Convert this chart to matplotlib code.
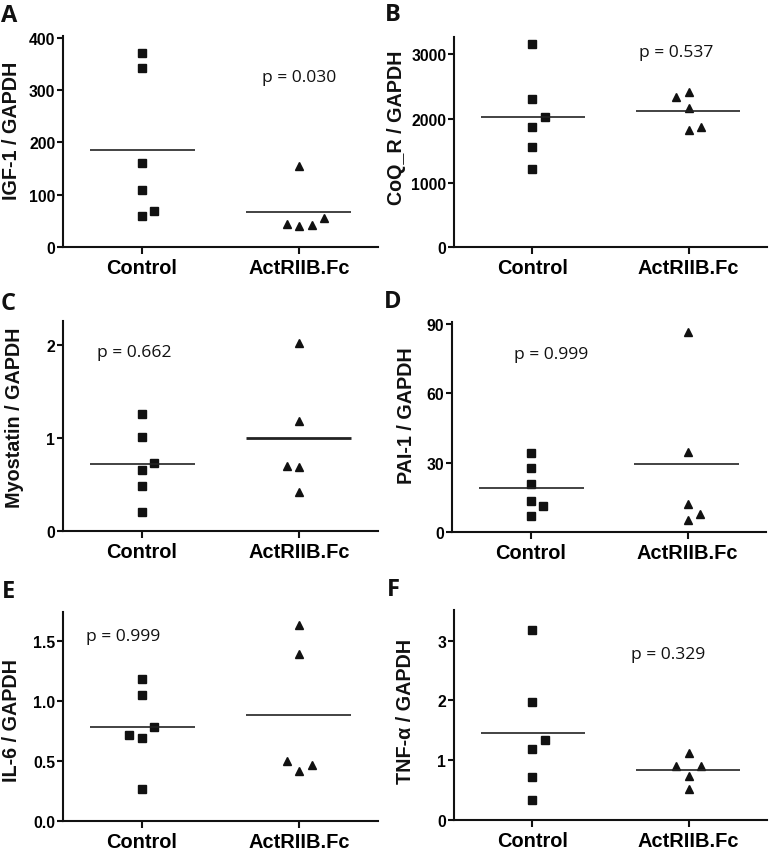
import matplotlib
matplotlib.use("Agg")
import matplotlib.pyplot as plt
import numpy as np

W, H = 769, 854
DPI = 100

groups = ["Control", "ActRIIB.Fc"]

# Panel A: IGF-1
a_ctrl = [371, 342, 160, 109, 59, 68]
a_ctrl_dx = [0, 0, 0, 0, 0, 0.08]
a_trt = [154, 44.5, 39.4, 42.6, 54.7]
a_trt_dx = [0, -0.08, 0, 0.08, 0.16]

# Panel B: CoQ_R
b_ctrl = [3156, 2304, 1869, 1557, 1215, 2024]
b_ctrl_dx = [0, 0, 0, 0, 0, 0.08]
b_trt = [2336, 2408, 2159, 1822, 1863]
b_trt_dx = [-0.08, 0, 0, 0, 0.08]

# Panel C: Myostatin
c_ctrl = [1.257, 1.009, 0.657, 0.488, 0.208, 0.729]
c_ctrl_dx = [0, 0, 0, 0, 0, 0.08]
c_trt = [2.025, 1.181, 0.700, 0.686, 0.420]
c_trt_dx = [0, 0, -0.08, 0, 0]

# Panel D: PAI-1
d_ctrl = [34.2, 27.7, 20.7, 13.2, 7.0, 11.1]
d_ctrl_dx = [0, 0, 0, 0, 0, 0.08]
d_trt = [86.3, 34.6, 11.9, 5.3, 7.8]
d_trt_dx = [0, 0, 0, 0, 0.08]

# Panel E: IL-6
e_ctrl = [1.186, 1.056, 0.789, 0.722, 0.694, 0.269]
e_ctrl_dx = [0, 0, 0.08, -0.08, 0, 0]
e_trt = [1.633, 1.394, 0.500, 0.417, 0.467]
e_trt_dx = [0, 0, -0.08, 0, 0.08]

# Panel F: TNF-alpha
f_ctrl = [3.168, 1.969, 1.339, 1.182, 0.719, 0.329]
f_ctrl_dx = [0, 0, 0.08, 0, 0, 0]
f_trt = [1.127, 0.898, 0.904, 0.742, 0.513]
f_trt_dx = [0, -0.08, 0.08, 0, 0]

panels = [
    dict(letter="A", ylabel="IGF-1 / GAPDH", ctrl=a_ctrl, cdx=a_ctrl_dx, trt=a_trt, tdx=a_trt_dx,
         yticks=[0, 100, 200, 300, 400], yticklabels=["0", "100", "200", "300", "400"], ytop=403,
         p="p = 0.030", px=2.0, py=324,
         box=(63, 378, 37, 248), lab=(12, 131), let=(9, 16), tlw=1.2),
    dict(letter="B", ylabel="CoQ_R / GAPDH", ctrl=b_ctrl, cdx=b_ctrl_dx, trt=b_trt, tdx=b_trt_dx,
         yticks=[0, 1000, 2000, 3000], yticklabels=["0", "1000", "2000", "3000"], ytop=3270,
         p="p = 0.537", px=1.92, py=3036,
         box=(454, 767, 38, 248), lab=(397, 128), let=(393, 15), tlw=1.2),
    dict(letter="C", ylabel="Myostatin / GAPDH", ctrl=c_ctrl, cdx=c_ctrl_dx, trt=c_trt, tdx=c_trt_dx,
         yticks=[0, 1, 2], yticklabels=["0", "1", "2"], ytop=2.26,
         p="p = 0.662", px=0.95, py=1.93,
         box=(63, 378, 322, 532), lab=(15, 418), let=(8, 304), tlw=2.0),
    dict(letter="D", ylabel="PAI-1 / GAPDH", ctrl=d_ctrl, cdx=d_ctrl_dx, trt=d_trt, tdx=d_trt_dx,
         yticks=[0, 30, 60, 90], yticklabels=["0", "30", "60", "90"], ytop=90.7,
         p="p = 0.999", px=1.13, py=76.8,
         box=(452, 766, 323, 533), lab=(407, 416), let=(393, 302), tlw=1.2),
    dict(letter="E", ylabel="IL-6 / GAPDH", ctrl=e_ctrl, cdx=e_ctrl_dx, trt=e_trt, tdx=e_trt_dx,
         yticks=[0, 0.5, 1.0, 1.5], yticklabels=["0.0", "0.5", "1.0", "1.5"], ytop=1.745,
         p="p = 0.999", px=0.88, py=1.542,
         box=(63, 378, 613, 822), lab=(12, 720), let=(8, 592), tlw=1.2),
    dict(letter="F", ylabel="TNF-\u03b1 / GAPDH", ctrl=f_ctrl, cdx=f_ctrl_dx, trt=f_trt, tdx=f_trt_dx,
         yticks=[0, 1, 2, 3], yticklabels=["0", "1", "2", "3"], ytop=3.51,
         p="p = 0.329", px=1.87, py=2.77,
         box=(454, 767, 611, 821), lab=(405, 711), let=(393, 590), tlw=1.2),
]

fig = plt.figure(figsize=(W / DPI, H / DPI), dpi=DPI)
fig.patch.set_facecolor("white")

bold_font = dict(family=["Liberation Sans", "DejaVu Sans"], weight="bold")

for pn in panels:
    x0, x1, yt, yb = pn["box"]
    ax = fig.add_axes([x0 / W, 1 - yb / H, (x1 - x0) / W, (yb - yt) / H])
    ax.set_xlim(0.5, 2.5)
    ax.set_ylim(0, pn["ytop"])
    for s in ["top", "right"]:
        ax.spines[s].set_visible(False)
    for s in ["left", "bottom"]:
        ax.spines[s].set_linewidth(1.5)
        ax.spines[s].set_color("#111111")

    xc = 1 + np.array(pn["cdx"])
    xt = 2 + np.array(pn["tdx"])
    ax.plot(xc, pn["ctrl"], linestyle="none", marker="s", ms=5.5, color="#111111", clip_on=False)
    ax.plot(xt, pn["trt"], linestyle="none", marker="^", ms=6.4, color="#111111", clip_on=False)

    mc = np.mean(pn["ctrl"])
    mt = np.mean(pn["trt"])
    ax.plot([0.67, 1.34], [mc, mc], color="#222222", lw=1.2, solid_capstyle="butt")
    ax.plot([1.66, 2.33], [mt, mt], color="#222222", lw=pn["tlw"], solid_capstyle="butt")

    ax.set_xticks([1, 2])
    ax.set_xticklabels(groups)
    ax.set_yticks(pn["yticks"])
    ax.set_yticklabels(pn["yticklabels"])
    ax.tick_params(axis="x", length=5, width=1.5, pad=3, color="#111111")
    ax.tick_params(axis="y", length=4.5, width=1.5, pad=1, color="#111111")
    for lbl in ax.get_xticklabels():
        lbl.set_fontfamily(["Liberation Sans", "DejaVu Sans"])
        lbl.set_fontweight("bold")
        lbl.set_fontsize(14.4)
    for lbl in ax.get_yticklabels():
        lbl.set_fontfamily(["Liberation Sans", "DejaVu Sans"])
        lbl.set_fontweight("bold")
        lbl.set_fontsize(11.3)

    ax.text(pn["px"], pn["py"], pn["p"], ha="center", va="center", fontsize=12.6,
            family=["Open Sans", "DejaVu Sans"], color="#111111")

    lx, ly = pn["lab"]
    fig.text(lx / W, 1 - ly / H, pn["ylabel"], rotation=90, ha="center", va="center",
             fontsize=14.2, color="#111111", **bold_font)
    tx, ty = pn["let"]
    fig.text(tx / W, 1 - ty / H, pn["letter"], ha="center", va="center", fontsize=17,
             family=["Open Sans", "DejaVu Sans"], weight="bold", color="#111111")

fig.savefig("out.png", dpi=DPI, facecolor="white")
